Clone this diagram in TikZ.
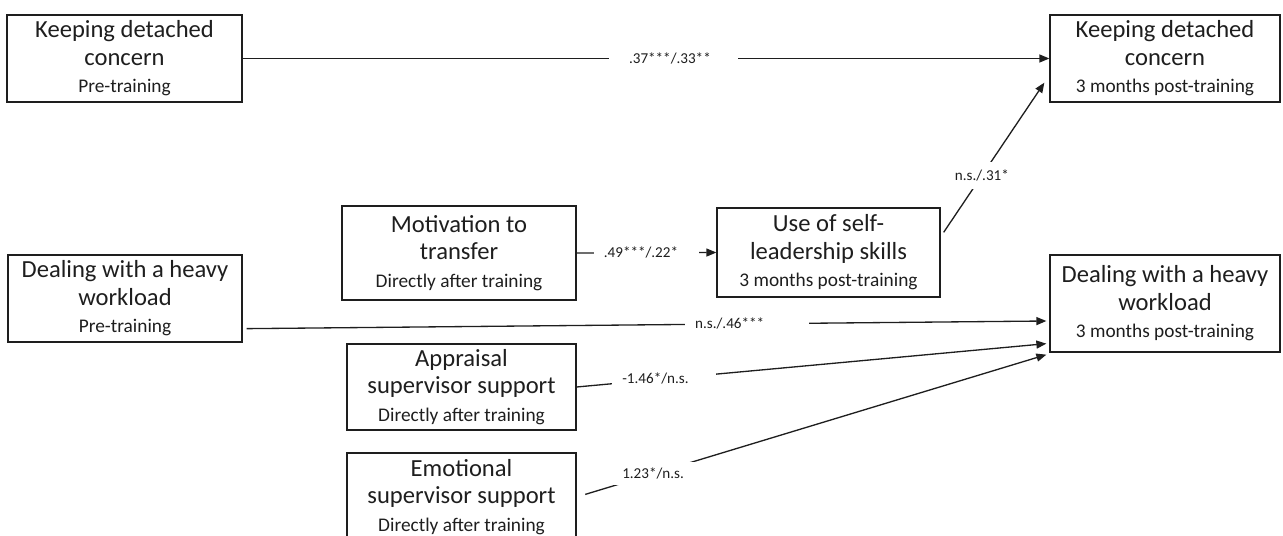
\documentclass[tikz,border=0pt]{standalone}
\usepackage{fontspec}
\setmainfont{Carlito}
\usetikzlibrary{arrows.meta,calc}
\definecolor{ink}{HTML}{1E1E1E}
\newcommand{\boxfont}{\fontsize{14}{15.7}\selectfont}
\newcommand{\stagefont}{\fontsize{11}{15.7}\selectfont}
\newcommand{\coeffont}{\fontsize{8.6}{10}\selectfont}

\begin{document}
\begin{tikzpicture}[x=0.02cm, y=-0.02cm,
  measure/.style={draw=ink, line width=0.75pt, inner sep=0pt, align=center, font=\boxfont, text=ink,
    execute at begin node=\rule{0pt}{14pt}},
  link/.style={-{Triangle[length=2mm,width=1.6mm]}, ink, line width=0.75pt},
  coef/.style={fill=white, font=\coeffont, inner ysep=2pt, inner xsep=5.7pt, text=ink}]
  \useasboundingbox (0,0) rectangle (1283,536);
  % measures, pre-training and after training
  \node[measure, minimum width=4.70cm, minimum height=1.74cm] (kdcpre) at (124.5,58.5)
    {Keeping detached\\concern\\{\stagefont Pre-training}};
  \node[measure, minimum width=4.68cm, minimum height=1.74cm] (dpre) at (125,298.5)
    {Dealing with a heavy\\workload\\{\stagefont Pre-training}};
  \node[measure, minimum width=4.68cm, minimum height=1.88cm] (mot) at (459,253)
    {Motivation to\\transfer\\{\stagefont Directly after training}};
  \node[measure, minimum width=4.58cm, minimum height=1.72cm] (app) at (461.5,387)
    {Appraisal\\supervisor support\\{\stagefont Directly after training}};
  \node[measure, minimum width=4.58cm, minimum height=1.76cm] (emo) at (461.5,497)
    {Emotional\\supervisor support\\{\stagefont Directly after training}};
  % measures, 3 months later
  \node[measure, minimum width=4.46cm, minimum height=1.78cm] (use) at (828.5,252.5)
    {Use of self-\\leadership skills\\{\stagefont 3 months post-training}};
  \node[measure, minimum width=4.60cm, minimum height=1.74cm] (kdcpost) at (1165,58.5)
    {Keeping detached\\concern\\{\stagefont 3 months post-training}};
  \node[measure, minimum width=4.60cm, minimum height=1.94cm] (dpost) at (1165,303.5)
    {Dealing with a heavy\\workload\\{\stagefont 3 months post-training}};
  % paths
  \draw[link] (kdcpre.east) -- (kdcpost.west)
    node[coef, pos=0.534, inner xsep=11.4pt] {.37***/.33**\kern4pt};
  \draw[link] (mot.east) -- (use.west)
    node[coef, pos=0.5] {.49***/.22*\kern6.3pt};
  \draw[link] ($(use.north east)+(3,25)$) -- ($(kdcpost.south west)+(-5,-20)$)
    node[coef, pos=0.38, inner ysep=4.3pt] {n.s./.31*};
  \draw[link] ($(dpre.south east)+(4,-14)$) -- ($(dpost.west)+(-3,17.5)$)
    node[coef, pos=0.626] {n.s./.46***\kern20pt};
  \draw[link] (app.east) -- ($(dpost.south west)+(-3,-9)$)
    node[coef, pos=0.186] {-1.46*/n.s.\kern9.7pt};
  \draw[link, shorten <=0.18cm] (emo.east) -- ($(dpost.south west)+(-3,2)$)
    node[coef, pos=0.167, inner ysep=3.4pt] {1.23*/n.s.\kern2.3pt};
\end{tikzpicture}
\end{document}
